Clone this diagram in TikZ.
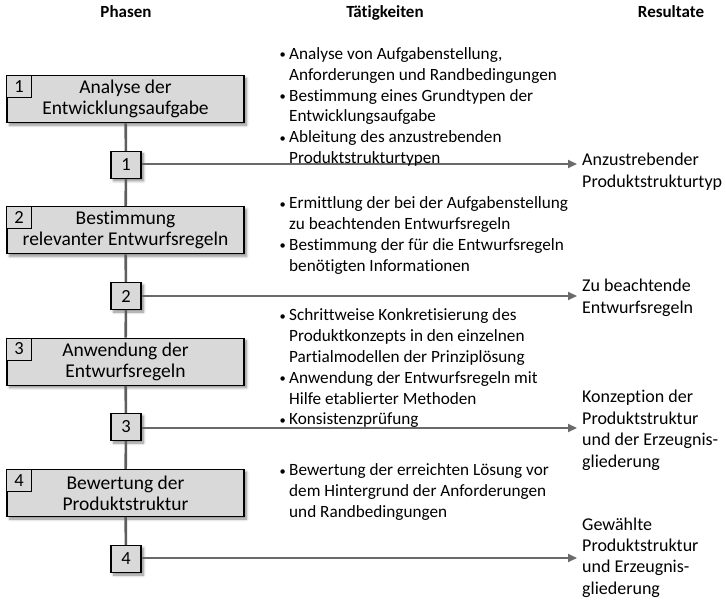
\documentclass[tikz,border=0pt]{standalone}
\usepackage{fontspec}
\setmainfont{Carlito}[Ligatures=NoCommon]
\usetikzlibrary{arrows.meta,shadows.blur}

\definecolor{boxgray}{HTML}{D9D9D9}
\definecolor{spinegray}{HTML}{5E5E5E}
\definecolor{flowgray}{HTML}{6A6A6A}

\newcommand{\bitem}[1]{\makebox[9.5pt][l]{\raisebox{0.6pt}{\fontsize{12.5}{12}\selectfont •}}#1}
\newcommand{\bcont}[1]{\hspace*{9.5pt}#1}
\newcommand{\actfont}{\fontsize{17.2}{20.8}\selectfont}
\newcommand{\resfont}{\fontsize{18}{21.5}\selectfont}

\tikzset{
  softshadow/.style={blur shadow={shadow xshift=2.5pt, shadow yshift=-2.5pt,
      shadow blur steps=6, shadow blur radius=2.5pt, shadow opacity=45}},
  phasebox/.style={draw=black, line width=1.2pt, fill=boxgray, softshadow,
      minimum width=237pt, minimum height=47pt, inner sep=0pt, align=center,
      font=\fontsize{19.5}{20.8}\selectfont},
  phasetag/.style={draw=black, line width=0.9pt, fill=boxgray,
      minimum width=24.5pt, minimum height=22pt, inner sep=0pt,
      font=\fontsize{18.5}{19}\selectfont},
  milestone/.style={draw=black, line width=1.2pt, fill=boxgray, softshadow,
      minimum width=30pt, minimum height=27pt, inner sep=0pt,
      font=\fontsize{18.5}{19}\selectfont},
  spine/.style={draw=spinegray, line width=2.6pt},
  outflow/.style={draw=flowgray, line width=2pt, -{Triangle[length=9pt,width=8pt]}},
  header/.style={font=\fontsize{17}{19}\bfseries\selectfont, anchor=base, inner sep=0pt},
  activity/.style={anchor=base west, inner sep=0pt},
  outcome/.style={anchor=base west, inner sep=0pt},
}

\begin{document}
\begin{tikzpicture}[x=1pt, y=-1pt]
\useasboundingbox (0,0) rectangle (726,601);

% column headings
\node[header] (hPhase) at (126,18) {Phasen};
\node[header] (hAct) at (385,18) {Tätigkeiten};
\node[header] (hRes) at (671,18) {Resultate};

% phases
\node[phasebox] (b1) at (125.5,99.2) {Analyse der\\Entwicklungsaufgabe};
\node[phasebox] (b2) at (125.5,230.3) {Bestimmung\\relevanter Entwurfsregeln};
\node[phasebox] (b3) at (125.5,361.7) {Anwendung der\\Entwurfsregeln};
\node[phasebox] (b4) at (125.5,493) {Bewertung der\\Produktstruktur};

\node[phasetag, anchor=north west] (t1) at (b1.north west) {1};
\node[phasetag, anchor=north west] (t2) at (b2.north west) {2};
\node[phasetag, anchor=north west] (t3) at (b3.north west) {3};
\node[phasetag, anchor=north west] (t4) at (b4.north west) {4};

% milestones
\node[milestone] (m1) at (126,165) {1};
\node[milestone] (m2) at (126,296) {2};
\node[milestone] (m3) at (126,427) {3};
\node[milestone] (m4) at (126,559) {4};

% vertical flow through the phases
\draw[spine] (b1) -- (m1);
\draw[spine] (m1) -- (b2);
\draw[spine] (b2) -- (m2);
\draw[spine] (m2) -- (b3);
\draw[spine] (b3) -- (m3);
\draw[spine] (m3) -- (b4);
\draw[spine] (b4) -- (m4);

% arrows towards the results
\coordinate (e1) at (577,164);
\coordinate (e2) at (577,296);
\coordinate (e3) at (577,428);
\coordinate (e4) at (577,558);
\draw[outflow] (m1.east |- e1) -- (e1);
\draw[outflow] (m2.east |- e2) -- (e2);
\draw[outflow] (m3.east |- e3) -- (e3);
\draw[outflow] (m4.east |- e4) -- (e4);

% activities
\node[activity] (a1) at (279.5,59.5) {\parbox[t]{300pt}{\actfont
  \bitem{Analyse von Aufgabenstellung,}\\
  \bcont{Anforderungen und Randbedingungen}\\
  \bitem{Bestimmung eines Grundtypen der}\\
  \bcont{Entwicklungsaufgabe}\\
  \bitem{Ableitung des anzustrebenden}\\
  \bcont{Produktstrukturtypen}}};
\node[activity] (a2) at (279.5,209) {\parbox[t]{300pt}{\actfont
  \bitem{Ermittlung der bei der Aufgabenstellung}\\
  \bcont{zu beachtenden Entwurfsregeln}\\
  \bitem{Bestimmung der für die Entwurfsregeln}\\
  \bcont{benötigten Informationen}}};
\node[activity] (a3) at (279.5,321) {\parbox[t]{300pt}{\actfont
  \bitem{Schrittweise Konkretisierung des}\\
  \bcont{Produktkonzepts in den einzelnen}\\
  \bcont{Partialmodellen der Prinziplösung}\\
  \bitem{Anwendung der Entwurfsregeln mit}\\
  \bcont{Hilfe etablierter Methoden}\\
  \bitem{Konsistenzprüfung}}};
\node[activity] (a4) at (279.5,476) {\parbox[t]{300pt}{\actfont
  \bitem{Bewertung der erreichten Lösung vor}\\
  \bcont{dem Hintergrund der Anforderungen}\\
  \bcont{und Randbedingungen}}};

% results
\node[outcome] (r1) at (582,166) {\parbox[t]{150pt}{\resfont
  Anzustrebender\\Produktstrukturtyp}};
\node[outcome] (r2) at (582,292) {\parbox[t]{150pt}{\resfont
  Zu beachtende\\Entwurfsregeln}};
\node[outcome] (r3) at (582,403) {\parbox[t]{150pt}{\resfont
  Konzeption der\\Produktstruktur\\und der Erzeugnis-\\gliederung}};
\node[outcome] (r4) at (582,530) {\parbox[t]{150pt}{\resfont
  Gewählte\\Produktstruktur\\und Erzeugnis-\\gliederung}};
\end{tikzpicture}
\end{document}
